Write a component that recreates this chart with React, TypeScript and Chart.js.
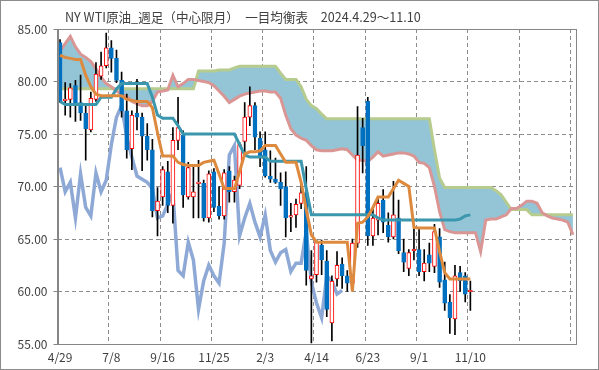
import React, { useEffect, useRef } from 'react';
import { Chart, registerables } from 'chart.js';

Chart.register(...registerables);

const TITLE = 'NY WTI原油_週足（中心限月）　一目均衡表　2024.4.29～11.10';
const xTickLabels = ['4/29', '7/8', '9/16', '11/25', '2/3', '4/14', '6/23', '9/1', '11/10'];
const LABEL_EVERY = 10;
const TOTAL_SLOTS = 101;

const opens = [
  83.7, 78.2, 78.3, 79.6, 78.0, 77.0, 75.4, 78.3, 80.5, 81.5,
  83.2, 82.2, 80.1, 77.2, 73.6, 77.0, 76.6, 74.8, 73.5, 67.7,
  69.0, 71.4, 68.2, 74.4, 74.9, 69.0, 69.0, 70.3, 70.3, 67.0,
  71.4, 68.1, 67.2, 71.5, 69.5, 70.1, 74.3, 76.6, 77.7, 74.6,
  73.5, 71.0, 70.7, 70.4, 70.0, 67.1, 67.3, 68.4, 69.4, 61.2,
  61.6, 64.4, 62.9, 57.0, 61.2, 62.6, 61.5, 60.8, 64.6, 75.6,
  78.1, 65.3, 66.8, 68.7, 66.3, 65.2, 67.0, 63.7, 62.2, 63.9,
  64.0, 61.9, 63.5, 62.4, 65.2, 61.1, 59.0, 57.4, 61.8, 61.5,
  60.0,
];
const highs = [
  84.0, 79.9, 79.8, 80.1, 80.6, 77.9, 79.0, 81.8, 82.8, 84.6,
  83.9, 83.0, 80.9, 78.8, 77.2, 80.2, 77.0, 76.0, 74.5, 69.9,
  71.9, 72.4, 75.6, 78.5, 75.3, 72.3, 72.0, 72.5, 70.6, 71.5,
  71.7, 70.0, 71.6, 71.9, 71.0, 74.2, 78.0, 79.5, 78.0, 75.2,
  75.2, 73.4, 72.7, 71.3, 71.4, 68.4, 68.8, 70.2, 71.9, 63.9,
  64.9, 64.9, 63.9, 61.5, 63.8, 63.2, 62.0, 65.0, 77.6, 76.5,
  78.5, 67.9, 69.0, 69.7, 67.5, 70.5, 68.7, 65.0, 64.0, 66.0,
  66.0, 64.0, 64.6, 66.4, 66.0, 62.8, 59.7, 62.5, 62.4, 61.8,
  61.0,
];
const lows = [
  78.0, 76.8, 76.6, 76.2, 76.3, 72.5, 75.2, 78.1, 80.2, 81.3,
  80.9, 79.9, 76.6, 72.7, 71.6, 75.4, 71.5, 72.5, 67.1, 65.3,
  68.2, 67.5, 66.5, 73.5, 68.0, 68.8, 67.0, 67.0, 66.7, 66.6,
  67.6, 66.9, 66.9, 68.5, 68.5, 69.8, 73.2, 75.8, 73.5, 71.9,
  70.9, 70.4, 70.3, 68.2, 65.2, 65.7, 66.1, 67.9, 60.6, 55.1,
  60.9, 61.6, 57.6, 55.3, 60.5, 60.3, 60.0, 60.6, 64.2, 71.3,
  64.4, 64.4, 65.4, 65.6, 64.7, 65.0, 63.6, 61.9, 61.5, 63.0,
  61.5, 61.0, 61.9, 61.8, 60.4, 58.2, 56.0, 55.9, 60.0, 59.0,
  58.2,
];
const closes = [
  78.1, 78.3, 79.4, 77.7, 77.0, 75.5, 78.4, 80.7, 81.5, 83.2,
  82.2, 80.1, 77.2, 73.5, 76.8, 76.6, 74.8, 73.5, 67.7, 68.6,
  71.6, 68.2, 74.4, 75.6, 69.2, 71.8, 69.5, 70.4, 67.0, 71.2,
  68.0, 67.2, 71.3, 69.5, 70.6, 74.0, 76.6, 77.7, 74.7, 72.8,
  71.0, 70.7, 70.4, 69.8, 67.0, 67.2, 68.3, 69.4, 62.0, 61.5,
  64.7, 63.0, 58.3, 61.0, 62.5, 61.5, 60.8, 64.6, 73.0, 73.9,
  65.3, 67.0, 68.4, 66.6, 65.2, 67.3, 63.9, 62.8, 63.7, 64.0,
  61.9, 62.7, 62.7, 65.7, 60.9, 58.9, 57.5, 61.5, 61.0, 59.75,
  60.1,
];
const tenkan = [
  82.5, 82.3, 82.2, 82.1, 82.1, 80.6, 79.5, 78.8, 78.65, 78.65,
  78.65, 78.65, 78.65, 78.3, 78.2, 78.1, 78.1, 78.1, 77.5, 75.1,
  72.9, 72.9, 72.9, 72.3, 72.1, 72.0, 72.0, 72.0, 72.3, 72.4,
  72.5, 71.2, 69.8, 69.8, 69.8, 71.4, 73.1, 73.3, 73.3, 73.4,
  73.9, 73.9, 73.9, 73.1, 72.3, 72.3, 72.3, 70.4, 67.8, 65.4,
  64.7, 64.7, 64.7, 64.7, 64.7, 64.7, 64.7, 60.0, 66.5, 66.6,
  67.1, 68.0, 69.0, 69.0, 69.0, 69.8, 70.6, 70.3, 70.0, 66.1,
  66.05, 66.05, 66.05, 66.05, 63.8, 61.8, 61.2, 61.2, 61.2, 61.2,
  61.2,
];
const kijun = [
  78.1, 77.8, 77.8, 77.8, 77.8, 77.8, 77.8, 77.8, 78.5, 78.5,
  78.5, 79.3, 79.8, 79.8, 79.8, 79.8, 79.8, 79.8, 78.5, 76.8,
  76.5, 76.5, 76.5, 75.8, 75.0, 75.0, 75.0, 75.0, 75.0, 75.0,
  75.0, 75.0, 75.0, 75.0, 75.0, 74.0, 73.0, 72.8, 72.8, 72.8,
  72.8, 72.4, 72.4, 72.4, 72.4, 72.4, 72.4, 72.4, 69.8, 67.3,
  67.3, 67.3, 67.3, 67.3, 67.3, 67.3, 67.3, 67.3, 67.3, 67.3,
  67.3, 67.3, 67.0, 66.8, 66.8, 66.8, 66.8, 66.8, 66.8, 66.8,
  66.8, 66.8, 66.8, 66.8, 66.8, 66.8, 66.8, 66.8, 66.9, 67.2,
  67.3,
];
const chikou = [
  71.8, 69.5, 70.4, 67.0, 71.2, 68.0, 67.2, 71.3, 69.5, 70.6,
  74.0, 76.6, 77.7, 74.7, 72.8, 71.0, 70.7, 70.4, 69.8, 67.0,
  67.2, 68.3, 69.4, 62.0, 61.5, 64.7, 63.0, 58.3, 61.0, 62.5,
  61.5, 60.8, 64.6, 73.0, 73.9, 65.3, 67.0, 68.4, 66.6, 65.2,
  67.3, 63.9, 62.8, 63.7, 64.0, 61.9, 62.7, 62.7, 65.7, 60.9,
  58.9, 57.5, 61.5, 61.0, 59.75, 60.1,
];
const senkouA = [
  82.9, 83.6, 84.3, 83.3, 82.6, 82.3, 81.9, 81.2, 80.4, 79.8,
  79.5, 79.1, 78.8, 78.6, 78.1, 77.9, 77.7, 77.7, 78.1, 79.0,
  79.1, 79.2, 80.6, 79.5, 79.8, 80.2, 80.2, 80.1, 80.0, 79.9,
  79.6, 79.1, 78.6, 78.0, 78.3, 78.6, 78.8, 78.9, 79.0, 79.1,
  79.1, 79.0, 79.0, 78.4, 76.8, 75.5, 74.9, 74.6, 74.4, 73.9,
  73.5, 73.4, 73.4, 73.4, 73.5, 73.6, 73.5, 73.0, 72.5, 72.5,
  72.4, 72.8, 73.3, 72.9, 73.0, 73.1, 73.2, 73.2, 73.1, 72.9,
  72.3, 72.2, 71.8, 70.0, 67.6, 65.9, 65.7, 65.6, 65.6, 65.6,
  65.6, 65.6, 63.8, 66.8, 66.9, 66.9, 67.1, 67.3, 67.9, 67.9,
  68.2, 68.6, 68.6, 68.4, 67.5, 67.2, 67.0, 66.9, 66.8, 66.6,
  65.4,
];
const senkouB = [
  79.3, 79.3, 79.3, 79.3, 79.3, 79.3, 79.3, 79.3, 79.3, 79.3,
  79.3, 79.3, 79.3, 79.3, 79.3, 79.3, 79.3, 79.3, 79.3, 79.3,
  79.3, 79.3, 79.3, 79.3, 79.3, 79.3, 79.3, 81.0, 81.0, 81.0,
  81.0, 81.1, 81.1, 81.1, 81.3, 81.45, 81.45, 81.45, 81.45, 81.45,
  81.45, 81.45, 81.45, 80.8, 80.2, 80.2, 80.2, 79.5, 78.3, 77.7,
  77.4, 76.9, 76.45, 76.45, 76.45, 76.45, 76.45, 76.45, 76.45, 76.45,
  76.45, 76.45, 76.45, 76.45, 76.45, 76.45, 76.45, 76.45, 76.45, 76.45,
  76.45, 76.45, 76.45, 73.5, 70.8, 69.9, 69.9, 69.9, 69.9, 69.9,
  69.9, 69.9, 69.9, 69.9, 69.9, 69.6, 69.2, 68.5, 67.8, 67.8,
  67.8, 67.8, 67.3, 67.3, 67.3, 67.3, 67.3, 67.3, 67.3, 67.3,
  67.3,
];

const C_CLOUD = '#93C5D6';
const C_SPAN_A = '#D99694';
const C_SPAN_B = '#B6CB8E';
const C_KIJUN = '#3B97AD';
const C_TENKAN = '#DE8A3E';
const C_CHIKOU = '#8EA9D6';
const C_UP = '#FF0000';
const C_DOWN = '#0070C0';
const C_GRID = '#8C8C8C';
const C_TEXT = '#404040';
const FONT = '"Noto Sans CJK JP", "Noto Sans", sans-serif';

export default function App() {
  const ref = useRef<HTMLCanvasElement>(null);

  useEffect(() => {
    const canvas = ref.current;
    if (!canvas) return;
    const n = TOTAL_SLOTS;
    const labels = Array.from({ length: n }, (_, i) =>
      i % LABEL_EVERY === 0 && xTickLabels[i / LABEL_EVERY] ? xTickLabels[i / LABEL_EVERY] : ''
    );
    const pad = (arr: any[]) => Array.from({ length: n }, (_, i) => (i < arr.length ? arr[i] : null));

    const wickData = pad(highs.map((h, i) => [lows[i], h]));
    const bodyData = pad(
      opens.map((o, i) => {
        const c = closes[i];
        let lo = Math.min(o, c);
        let hi = Math.max(o, c);
        if (hi - lo < 0.14) {
          const m = (hi + lo) / 2;
          lo = m - 0.07;
          hi = m + 0.07;
        }
        return [lo, hi];
      })
    );
    const isUp = opens.map((o, i) => closes[i] >= o);

    const framePlugin = {
      id: 'frame',
      afterDraw(chart: any) {
        const { ctx, chartArea } = chart;
        ctx.save();
        ctx.strokeStyle = '#868686';
        ctx.lineWidth = 1;
        ctx.strokeRect(
          Math.round(chartArea.left) + 0.5,
          Math.round(chartArea.top) + 0.5,
          Math.round(chartArea.right - chartArea.left),
          Math.round(chartArea.bottom - chartArea.top)
        );
        ctx.strokeStyle = '#8C8C8C';
        ctx.strokeRect(0.5, 0.5, 598, 369);
        ctx.fillStyle = C_TEXT;
        ctx.font = `12.6px ${FONT}`;
        ctx.textAlign = 'left';
        ctx.textBaseline = 'middle';
        ctx.fillText(TITLE, 65, 17);
        ctx.restore();
      },
    };

    const lineBase = {
      type: 'line' as const,
      pointRadius: 0,
      pointHoverRadius: 0,
      tension: 0,
      fill: false,
      spanGaps: false,
    };

    const chart = new Chart(canvas, {
      type: 'bar',
      data: {
        labels,
        datasets: [
          {
            ...lineBase,
            label: '先行スパン1',
            data: pad(senkouA),
            borderColor: C_SPAN_A,
            borderWidth: 3,
            backgroundColor: C_CLOUD,
            fill: { target: '+1', above: C_CLOUD, below: C_CLOUD },
            order: 6,
          } as any,
          {
            ...lineBase,
            label: '先行スパン2',
            data: pad(senkouB),
            borderColor: C_SPAN_B,
            borderWidth: 3,
            order: 7,
          } as any,
          {
            ...lineBase,
            label: '遅行スパン',
            data: pad(chikou),
            borderColor: C_CHIKOU,
            borderWidth: 3.5,
            order: 5,
          } as any,
          {
            type: 'bar',
            label: '高安',
            data: wickData,
            backgroundColor: '#000000',
            borderWidth: 0,
            barThickness: 1,
            grouped: false,
            order: 4,
          } as any,
          {
            type: 'bar',
            label: '始終',
            data: bodyData,
            backgroundColor: pad(isUp.map((u) => (u ? '#FFFFFF' : C_DOWN))),
            borderColor: pad(isUp.map((u) => (u ? C_UP : C_DOWN))),
            borderWidth: 1,
            borderSkipped: false,
            barThickness: 4,
            grouped: false,
            order: 3,
          } as any,
          {
            ...lineBase,
            label: '基準線',
            data: pad(kijun),
            borderColor: C_KIJUN,
            borderWidth: 3,
            order: 2,
          } as any,
          {
            ...lineBase,
            label: '転換線',
            data: pad(tenkan),
            borderColor: C_TENKAN,
            borderWidth: 3,
            order: 1,
          } as any,
        ],
      },
      options: {
        responsive: false,
        devicePixelRatio: 1,
        animation: false,
        events: [],
        layout: { padding: { top: 29, right: 23.5, left: 0, bottom: 0 } },
        plugins: {
          legend: { display: false },
          tooltip: { enabled: false },
          title: { display: false },
          filler: { drawTime: 'beforeDatasetsDraw', propagate: false },
        } as any,
        scales: {
          x: {
            type: 'category',
            offset: true,
            afterFit: (s: any) => {
              s.height = 26;
            },
            grid: {
              offset: true,
              drawTicks: false,
              color: (ctx: any) => (ctx.index % LABEL_EVERY === 0 ? C_GRID : 'rgba(0,0,0,0)'),
              lineWidth: 1,
            },
            border: { display: true, color: '#868686', dash: [4, 3] },
            ticks: {
              autoSkip: false,
              maxRotation: 0,
              minRotation: 0,
              padding: 6,
              color: C_TEXT,
              font: { family: FONT, size: 12 },
              callback: (_v: any, i: number) => labels[i],
            },
          },
          y: {
            min: 55,
            max: 85,
            afterFit: (s: any) => {
              s.width = 57.5;
            },
            grid: {
              color: C_GRID,
              drawTicks: true,
              tickLength: 4,
              tickColor: '#868686',
              lineWidth: 1,
            },
            border: { display: true, color: '#868686', dash: [4, 3] },
            ticks: {
              stepSize: 5,
              padding: 6,
              color: C_TEXT,
              font: { family: FONT, size: 12 },
              callback: (v: any) => Number(v).toFixed(2),
            },
          },
        },
      } as any,
      plugins: [framePlugin],
    });

    return () => chart.destroy();
  }, []);

  return (
    <div style={{ position: 'absolute', left: 0, top: 0, width: 599, height: 370, background: '#fff' }}>
      <canvas ref={ref} width={599} height={370} style={{ display: 'block' }} />
    </div>
  );
}
